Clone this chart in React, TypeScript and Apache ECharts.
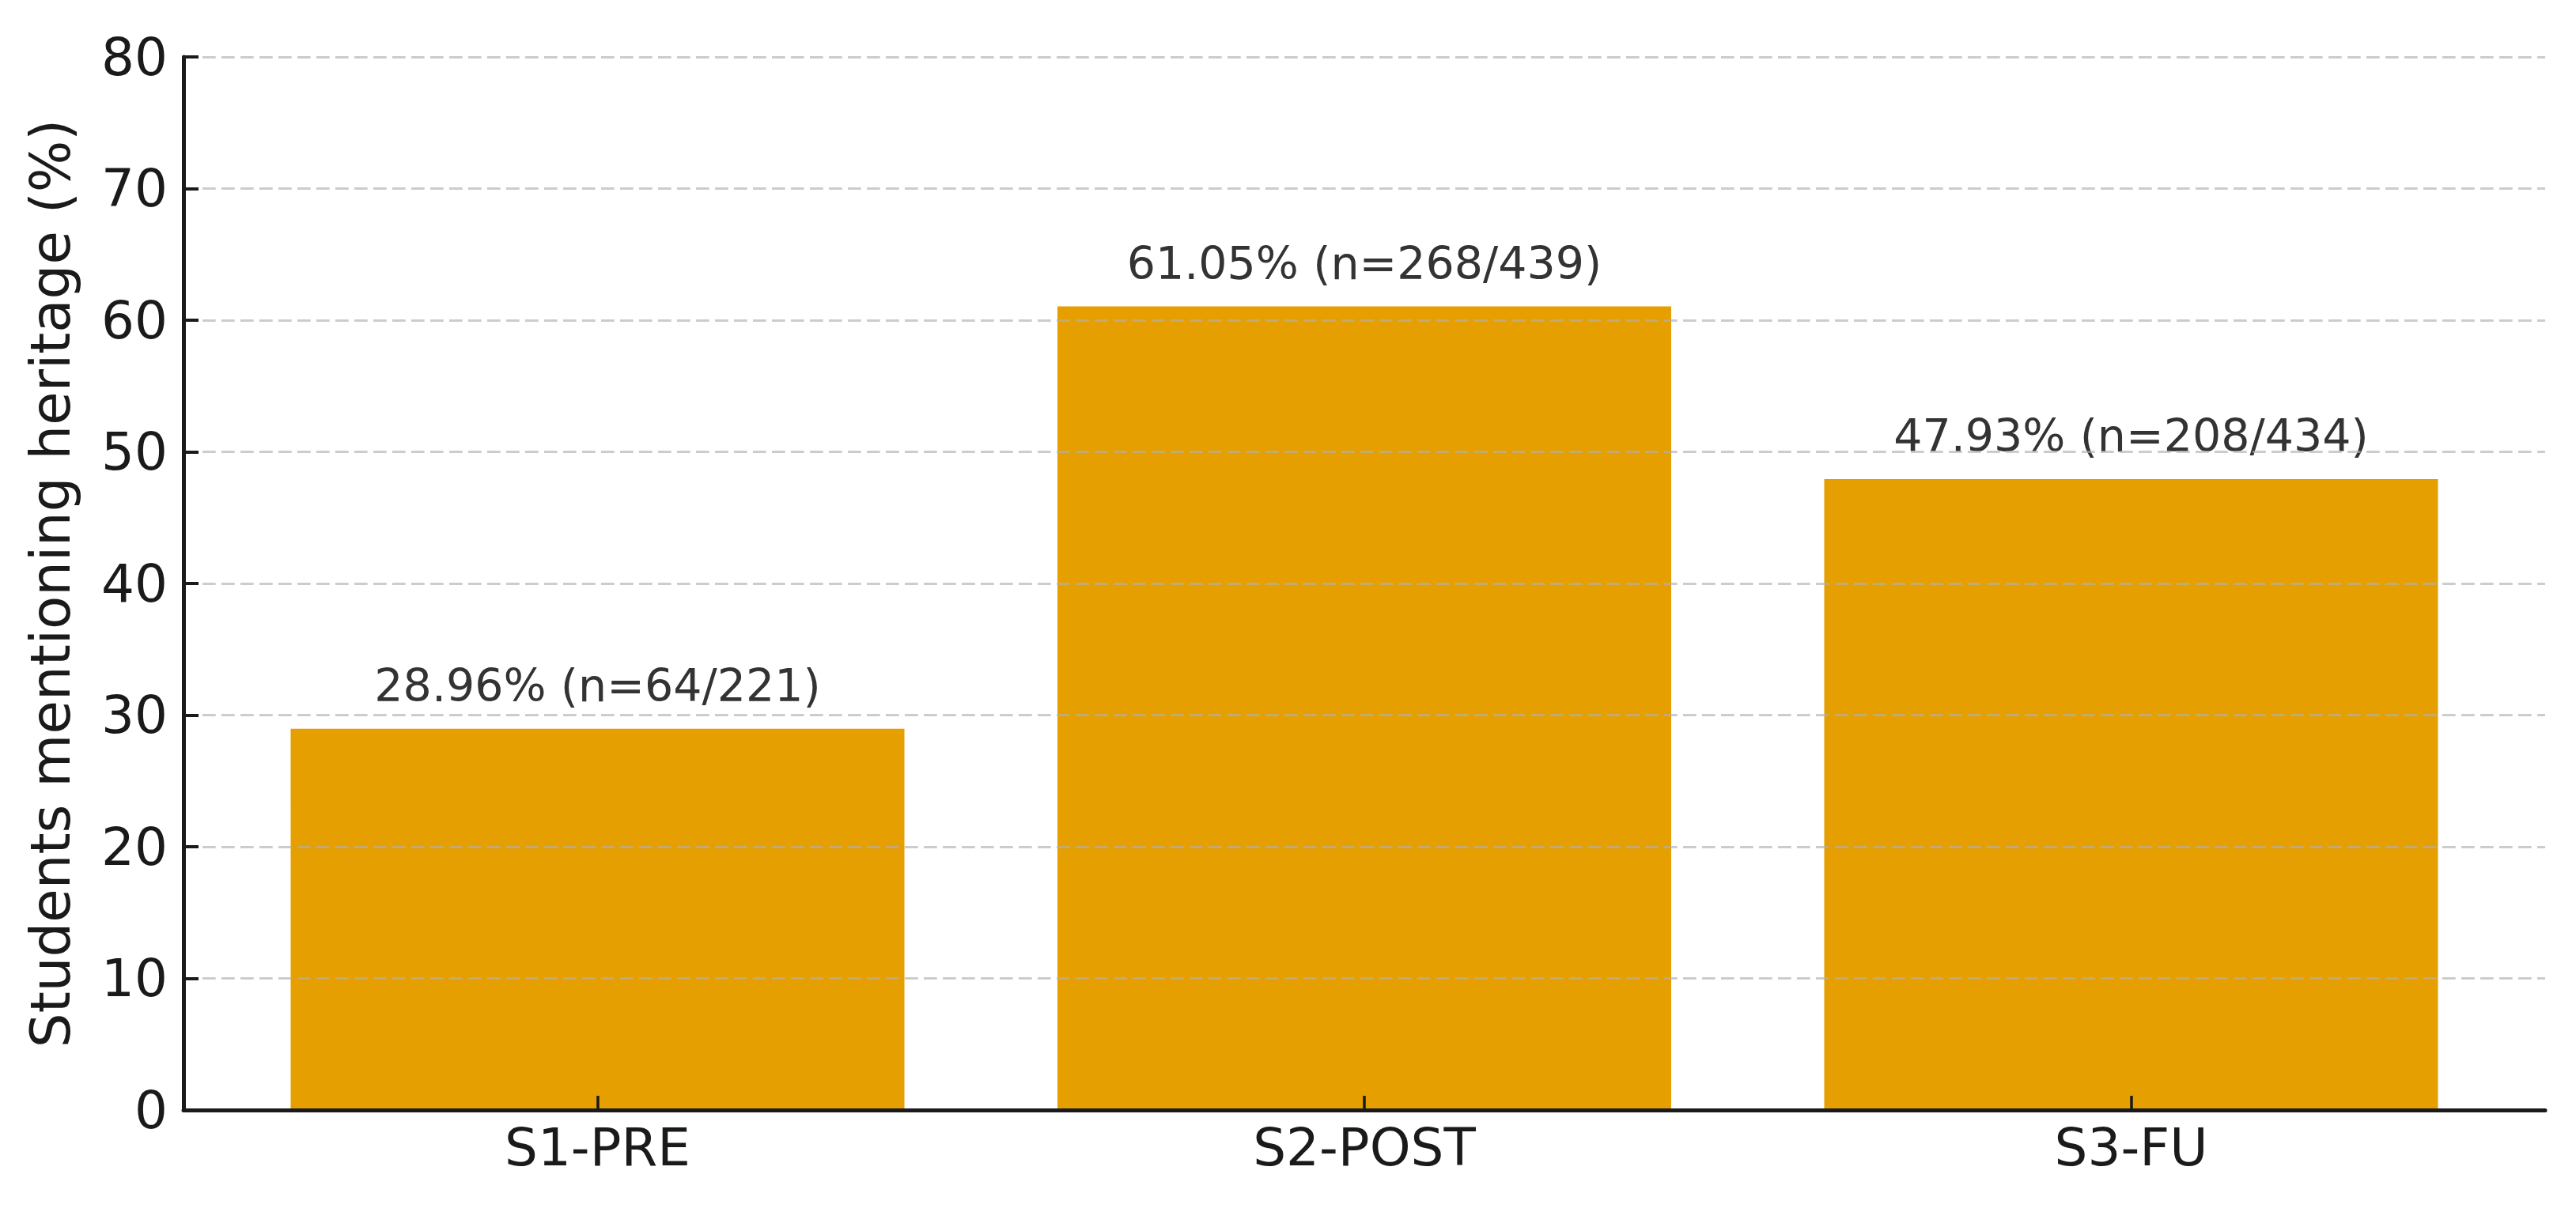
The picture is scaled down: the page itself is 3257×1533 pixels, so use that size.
import React, { useEffect, useRef } from "react";
import * as echarts from "echarts";

const categories = ["S1-PRE", "S2-POST", "S3-FU"];
const percentages = [28.96, 61.05, 47.93];
const mentioned = [64, 268, 208];
const totals = [221, 439, 434];
const yTicks = { min: 0, max: 80, interval: 10 };
const gridValues = [10, 20, 30, 40, 50, 60, 70, 80];
const yAxisTitle = "Students mentioning heritage (%)";

const FONT = "DejaVu Sans";

export default function App() {
  const ref = useRef<HTMLDivElement>(null);
  useEffect(() => {
    if (!ref.current) return;
    const chart = echarts.init(ref.current, null, { renderer: "svg" });
    const positions = categories.map((_, i) => i);
    chart.setOption({
      animation: false,
      backgroundColor: "#ffffff",
      grid: { left: 232, right: 39, top: 72, bottom: 129, containLabel: false },
      xAxis: {
        type: "value",
        min: -0.54,
        max: 2.54,
        z: 12,
        axisLine: { show: true, onZero: false, lineStyle: { color: "#1a1a1a", width: 5 } },
        axisTick: {
          show: true,
          inside: true,
          length: 18,
          customValues: positions,
          lineStyle: { color: "#1a1a1a", width: 3.5 },
        },
        axisLabel: {
          show: true,
          customValues: positions,
          margin: 14,
          fontFamily: FONT,
          fontSize: 66,
          color: "#1a1a1a",
          formatter: (v: number) => categories[Math.round(v)] ?? "",
        },
        splitLine: { show: false },
      },
      yAxis: {
        type: "value",
        min: yTicks.min,
        max: yTicks.max,
        interval: yTicks.interval,
        z: 12,
        name: yAxisTitle,
        nameLocation: "middle",
        nameGap: 134,
        nameTextStyle: { fontFamily: FONT, fontSize: 69, color: "#1a1a1a" },
        axisLine: { show: true, onZero: false, lineStyle: { color: "#1a1a1a", width: 5 } },
        axisTick: { show: true, inside: true, length: 19, lineStyle: { color: "#1a1a1a", width: 4 } },
        axisLabel: { margin: 20, fontFamily: FONT, fontSize: 66, color: "#1a1a1a" },
        splitLine: { show: false },
      },
      series: [
        {
          type: "bar",
          z: 2,
          barWidth: 776,
          data: percentages.map((p, i) => [positions[i], p]),
          itemStyle: { color: "#E69F00" },
          label: {
            show: true,
            position: "top",
            distance: 26,
            fontFamily: FONT,
            fontSize: 57,
            color: "#333333",
            formatter: (params: any) => {
              const i = params.dataIndex;
              return `${percentages[i].toFixed(2)}% (n=${mentioned[i]}/${totals[i]})`;
            },
          },
        },
        {
          type: "line",
          z: 10,
          data: [],
          silent: true,
          markLine: {
            silent: true,
            z: 10,
            symbol: ["none", "none"],
            label: { show: false },
            emphasis: { disabled: true },
            lineStyle: { color: "#b0b0b0", opacity: 0.65, width: 3, type: [16.7, 7.3] },
            data: gridValues.map((v) => ({ yAxis: v })),
          },
        },
      ],
    });
    return () => chart.dispose();
  }, []);
  return (
    <div
      ref={ref}
      style={{ position: "absolute", left: 0, top: 0, width: 3257, height: 1533 }}
    />
  );
}
